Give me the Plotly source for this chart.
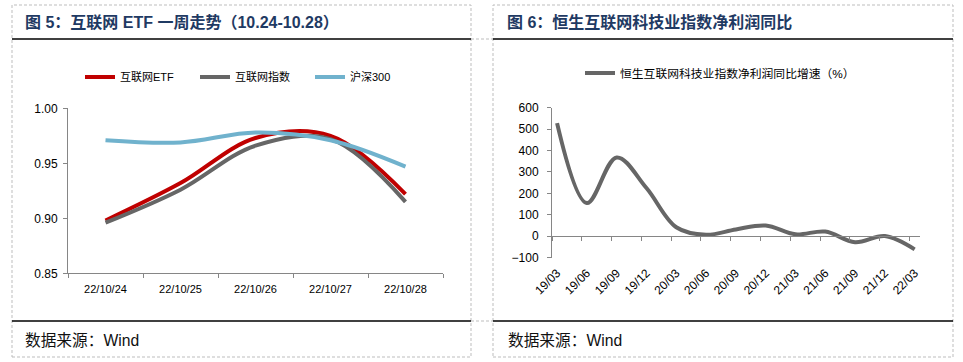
import plotly.graph_objects as go

# ---------------- data ----------------
etf_dates = ["22/10/24", "22/10/25", "22/10/26", "22/10/27", "22/10/28"]
etf_values = [0.898, 0.932, 0.973, 0.975, 0.922]
index_values = [0.896, 0.926, 0.966, 0.972, 0.915]
hs300_values = [0.971, 0.969, 0.978, 0.971, 0.947]

quarters = ["19/03", "19/06", "19/09", "19/12", "20/03", "20/06", "20/09",
            "20/12", "21/03", "21/06", "21/09", "21/12", "22/03"]
profit_growth = [528, 155, 368, 225, 42, 7, 32, 50, 9, 22, -28, 1, -61]

W, H = 963, 362
FONT = "Liberation Sans, Arial, Noto Sans CJK SC"
AXIS_GRAY = "#868686"


def px(x):
    return x / W


def py(y):
    return 1 - y / H


fig = go.Figure()

# ---------------- left chart ----------------
fig.add_trace(go.Scatter(x=etf_dates, y=etf_values, name="互联网ETF", mode="lines",
                         line=dict(color="#C00000", width=4, shape="spline", smoothing=1.0),
                         xaxis="x", yaxis="y", legend="legend"))
fig.add_trace(go.Scatter(x=etf_dates, y=index_values, name="互联网指数", mode="lines",
                         line=dict(color="#666666", width=4, shape="spline", smoothing=1.0),
                         xaxis="x", yaxis="y", legend="legend"))
fig.add_trace(go.Scatter(x=etf_dates, y=hs300_values, name="沪深300", mode="lines",
                         line=dict(color="#70B2CD", width=4, shape="spline", smoothing=1.0),
                         xaxis="x", yaxis="y", legend="legend"))

# ---------------- right chart ----------------
qx = list(range(len(quarters)))
fig.add_trace(go.Scatter(x=qx, y=profit_growth, name="恒生互联网科技业指数净利润同比增速（%）",
                         mode="lines",
                         line=dict(color="#666666", width=4, shape="spline", smoothing=1.0),
                         xaxis="x2", yaxis="y2", legend="legend2"))
# helper (invisible) trace so the zero-line axis is drawn
fig.add_trace(go.Scatter(x=qx, y=profit_growth, mode="none", showlegend=False,
                         hoverinfo="skip", xaxis="x3", yaxis="y2"))

right_range = [-0.17, 12.18]
y2_dom = [py(257.7), py(107.7)]
y2_range = [-100, 600]
zero_pos = y2_dom[0] + (0 - y2_range[0]) / (y2_range[1] - y2_range[0]) * (y2_dom[1] - y2_dom[0])

tickfont = dict(family=FONT, size=12, color="#000000")

fig.update_layout(
    template="none",
    width=W, height=H,
    autosize=False,
    margin=dict(l=0, r=0, t=0, b=0, pad=0, autoexpand=False),
    paper_bgcolor="white", plot_bgcolor="white",
    font=dict(family=FONT, color="#000000"),
    xaxis=dict(domain=[px(68), px(443)], anchor="y", type="category", range=[-0.5, 4.5],
               tickson="boundaries", ticks="outside", ticklen=4, tickcolor=AXIS_GRAY,
               showline=True, linecolor=AXIS_GRAY, linewidth=1, showgrid=False,
               automargin=False, zeroline=False, ticklabelstandoff=5,
               tickfont=dict(family=FONT, size=11, color="#000000")),
    yaxis=dict(domain=[py(273.3), py(108.3)], anchor="x", range=[0.85, 1.00], dtick=0.05,
               tickformat=".2f", ticks="outside", ticklen=4, tickcolor=AXIS_GRAY,
               showline=True, linecolor=AXIS_GRAY, linewidth=1, showgrid=False,
               zeroline=False, automargin=False, ticklabelstandoff=3, tickfont=tickfont),
    xaxis2=dict(domain=[px(552), px(920)], anchor="y2", range=right_range,
                tickvals=qx, ticktext=quarters, tickangle=-45, ticks="",
                showline=False, showgrid=False, zeroline=False, ticklabelstandoff=5,
                automargin=False,
                tickfont=dict(family=FONT, size=12, color="#000000")),
    xaxis3=dict(overlaying="x2", anchor="free", position=zero_pos, range=right_range,
                tickvals=[k - 0.17 for k in qx], ticks="outside", ticklen=4,
                tickcolor=AXIS_GRAY, showticklabels=False, showline=True,
                linecolor=AXIS_GRAY, linewidth=1, showgrid=False, zeroline=False,
                automargin=False),
    yaxis2=dict(domain=y2_dom, anchor="x2", range=y2_range, dtick=100,
                ticks="outside", ticklen=4, tickcolor=AXIS_GRAY, showline=True,
                linecolor=AXIS_GRAY, linewidth=1, showgrid=False, zeroline=False,
                ticklabelstandoff=6, automargin=False, tickfont=tickfont),
    legend=dict(orientation="h", x=px(80), y=py(77), xanchor="left", yanchor="middle",
                entrywidth=70, font=dict(family=FONT, size=11, color="#000000"),
                bgcolor="rgba(0,0,0,0)", itemwidth=30),
    legend2=dict(orientation="h", x=px(580), y=py(73), xanchor="left", yanchor="middle",
                 font=dict(family=FONT, size=11.8, color="#000000"),
                 bgcolor="rgba(0,0,0,0)", itemwidth=30),
    showlegend=True,
)

# ---------------- titles / sources ----------------
title_font = dict(family=FONT, size=16, color="#1F3A63")
fig.add_annotation(text="<b>图 5：互联网 ETF 一周走势（10.24-10.28）</b>", x=px(23), y=py(22),
                   xref="paper", yref="paper", xanchor="left", yanchor="middle",
                   showarrow=False, font=title_font)
fig.add_annotation(text="<b>图 6：恒生互联网科技业指数净利润同比</b>", x=px(505), y=py(22),
                   xref="paper", yref="paper", xanchor="left", yanchor="middle",
                   showarrow=False, font=title_font)
src_font = dict(family=FONT, size=15.7, color="#111111")
for sx in (23, 506):
    fig.add_annotation(text="数据来源：Wind", x=px(sx), y=py(340), xref="paper", yref="paper",
                       xanchor="left", yanchor="middle", showarrow=False, font=src_font)

# ---------------- frame shapes ----------------
dash_line = dict(color="#BDBDBD", width=1, dash="3px,2px")
for x0, x1 in ((12, 471), (493, 953)):
    fig.add_shape(type="rect", xref="paper", yref="paper", x0=px(x0), x1=px(x1),
                  y0=py(357), y1=py(5), line=dash_line, layer="below")
    for yy in (39, 321):
        fig.add_shape(type="line", xref="paper", yref="paper", x0=px(x0), x1=px(x1),
                      y0=py(yy), y1=py(yy), line=dict(color="#000000", width=1.5))
for yy in (39, 321):
    fig.add_shape(type="line", xref="paper", yref="paper", x0=px(471), x1=px(493),
                  y0=py(yy), y1=py(yy), line=dash_line)

fig.write_html(
    "out.html",
    config={"displayModeBar": False},
    post_script="document.body.style.margin='0';document.body.style.overflow='hidden';",
)
